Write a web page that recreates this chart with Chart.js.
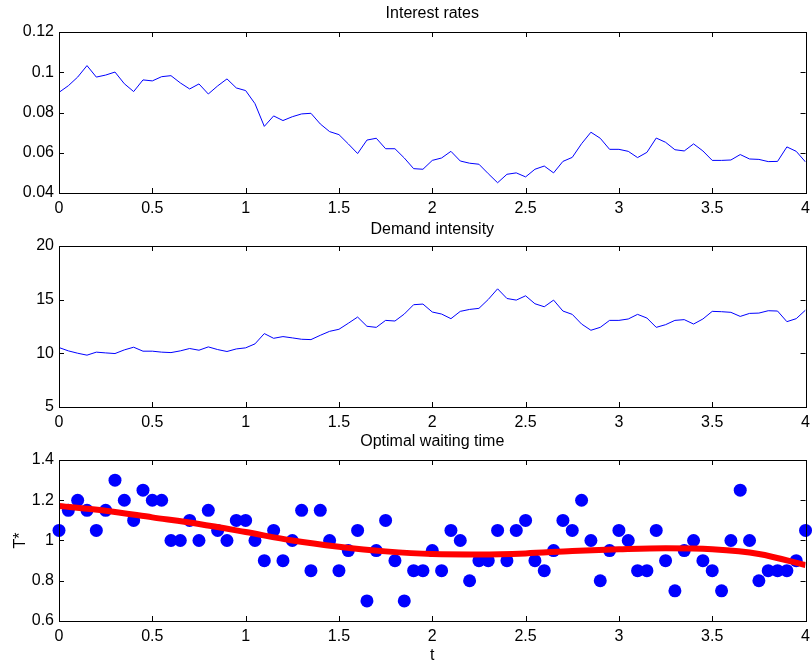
<!DOCTYPE html>
<html>
<head>
<meta charset="utf-8">
<script src="https://cdn.jsdelivr.net/npm/chart.js@4/dist/chart.umd.min.js"></script>
<style>
  html, body { margin: 0; padding: 0; background: #fff; }
  #wrap { position: relative; width: 812px; height: 665px; overflow: hidden; }
  #wrap canvas { position: absolute; left: 0; }
</style>
</head>
<body>
<div id="wrap">
  <canvas id="ratesChart" width="816" height="222" style="top:0px"></canvas>
  <canvas id="demandChart" width="816" height="220" style="top:215px"></canvas>
  <canvas id="waitChart" width="816" height="240" style="top:425px"></canvas>
</div>
<script>
// sample times, step 0.05
var t = [
  0, 0.05, 0.1, 0.15, 0.2, 0.25, 0.3, 0.35, 0.4, 0.45,
  0.5, 0.55, 0.6, 0.65, 0.7, 0.75, 0.8, 0.85, 0.9, 0.95,
  1, 1.05, 1.1, 1.15, 1.2, 1.25, 1.3, 1.35, 1.4, 1.45,
  1.5, 1.55, 1.6, 1.65, 1.7, 1.75, 1.8, 1.85, 1.9, 1.95,
  2, 2.05, 2.1, 2.15, 2.2, 2.25, 2.3, 2.35, 2.4, 2.45,
  2.5, 2.55, 2.6, 2.65, 2.7, 2.75, 2.8, 2.85, 2.9, 2.95,
  3, 3.05, 3.1, 3.15, 3.2, 3.25, 3.3, 3.35, 3.4, 3.45,
  3.5, 3.55, 3.6, 3.65, 3.7, 3.75, 3.8, 3.85, 3.9, 3.95,
  4
];

var rates = [
  0.0900, 0.0933, 0.0976, 0.1033, 0.0976, 0.0986, 0.1001, 0.0943, 0.0904, 0.0962,
  0.0957, 0.0978, 0.0983, 0.0947, 0.0917, 0.0942, 0.0892, 0.0932, 0.0967, 0.0922,
  0.0909, 0.0844, 0.0731, 0.0783, 0.0760, 0.0779, 0.0793, 0.0796, 0.0743, 0.0705,
  0.0690, 0.0644, 0.0596, 0.0663, 0.0672, 0.0620, 0.0620, 0.0574, 0.0521, 0.0518,
  0.0562, 0.0574, 0.0607, 0.0559, 0.0548, 0.0543, 0.0496, 0.0451, 0.0493, 0.0500,
  0.0480, 0.0518, 0.0534, 0.0500, 0.0557, 0.0577, 0.0645, 0.0702, 0.0672, 0.0617,
  0.0617, 0.0607, 0.0576, 0.0602, 0.0673, 0.0652, 0.0615, 0.0609, 0.0644, 0.0609,
  0.0562, 0.0562, 0.0564, 0.0591, 0.0569, 0.0567, 0.0556, 0.0557, 0.0629, 0.0607,
  0.0554
];

var demand = [
  10.54, 10.23, 10.01, 9.83, 10.11, 10.04, 9.98, 10.32, 10.57, 10.20,
  10.20, 10.11, 10.07, 10.23, 10.45, 10.29, 10.60, 10.35, 10.17, 10.41,
  10.51, 10.88, 11.84, 11.40, 11.56, 11.44, 11.31, 11.28, 11.68, 12.05,
  12.24, 12.80, 13.38, 12.52, 12.42, 13.07, 13.01, 13.66, 14.53, 14.59,
  13.85, 13.66, 13.23, 13.91, 14.09, 14.19, 15.02, 16.01, 15.11, 14.96,
  15.36, 14.62, 14.34, 14.96, 13.94, 13.63, 12.73, 12.15, 12.42, 13.07,
  13.07, 13.20, 13.63, 13.29, 12.42, 12.67, 13.07, 13.14, 12.73, 13.20,
  13.91, 13.88, 13.82, 13.44, 13.72, 13.75, 13.97, 13.94, 12.95, 13.23,
  14.03
];

var waiting = [
  1.05, 1.15, 1.2, 1.15, 1.05, 1.15, 1.3, 1.2, 1.1, 1.25,
  1.2, 1.2, 1.0, 1.0, 1.1, 1.0, 1.15, 1.05, 1.0, 1.1,
  1.1, 1.0, 0.9, 1.05, 0.9, 1.0, 1.15, 0.85, 1.15, 1.0,
  0.85, 0.95, 1.05, 0.7, 0.95, 1.1, 0.9, 0.7, 0.85, 0.85,
  0.95, 0.85, 1.05, 1.0, 0.8, 0.9, 0.9, 1.05, 0.9, 1.05,
  1.1, 0.9, 0.85, 0.95, 1.1, 1.05, 1.2, 1.0, 0.8, 0.95,
  1.05, 1.0, 0.85, 0.85, 1.05, 0.9, 0.75, 0.95, 1.0, 0.9,
  0.85, 0.75, 1.0, 1.25, 1.0, 0.8, 0.85, 0.85, 0.85, 0.9,
  1.05
];

// smoothed fit of the waiting times
var fitT = [0, 0.25, 0.5, 0.75, 1, 1.25, 1.5, 1.75, 2, 2.25, 2.5, 2.75, 3, 3.25, 3.5, 3.75, 4];
var fitWaiting = [1.171, 1.148, 1.115, 1.082, 1.042, 1.0, 0.969, 0.946, 0.933, 0.931, 0.936, 0.948, 0.956, 0.961, 0.956, 0.933, 0.878];

var xTicksStep = 0.5;

Chart.defaults.font.family = "'Liberation Sans', Arial, Helvetica, sans-serif";
Chart.defaults.font.size = 16;
Chart.defaults.color = '#000';

function pairs(xs, ys) {
  return xs.map(function(x, i) { return {x: x, y: ys[i]}; });
}

function fmt(v) {
  return String(+Number(v).toFixed(4));
}

// closed box with short inward ticks on all four sides
var boxTicks = {
  id: 'boxTicks',
  afterDatasetsDraw: function(chart) {
    var ctx = chart.ctx, a = chart.chartArea, sx = chart.scales.x, sy = chart.scales.y;
    var len = 5;
    ctx.save();
    ctx.strokeStyle = '#000';
    ctx.lineWidth = 1;
    ctx.beginPath();
    sx.ticks.forEach(function(tk) {
      var px = Math.round(sx.getPixelForValue(tk.value)) + 0.5;
      ctx.moveTo(px, a.bottom); ctx.lineTo(px, a.bottom - len);
      ctx.moveTo(px, a.top); ctx.lineTo(px, a.top + len);
    });
    sy.ticks.forEach(function(tk) {
      var py = Math.round(sy.getPixelForValue(tk.value)) + 0.5;
      ctx.moveTo(a.left, py); ctx.lineTo(a.left + len, py);
      ctx.moveTo(a.right, py); ctx.lineTo(a.right - len, py);
    });
    ctx.stroke();
    ctx.strokeRect(Math.round(a.left) + 0.5, Math.round(a.top) + 0.5,
      Math.round(a.right - a.left), Math.round(a.bottom - a.top));
    ctx.restore();
  }
};

function buildOptions(o) {
  return {
    responsive: false,
    animation: false,
    devicePixelRatio: 1,
    layout: {padding: {left: 0, right: 0, top: 0, bottom: o.bottomPad || 0}},
    plugins: {
      legend: {display: false},
      tooltip: {enabled: false},
      title: {
        display: true,
        fullSize: false,   // centre over the plot box
        text: o.title,
        color: '#000',
        font: {size: 16, weight: 'normal'},
        padding: o.titlePad
      }
    },
    scales: {
      x: {
        type: 'linear',
        min: 0, max: 4,
        grid: {display: false, drawTicks: false},
        border: {display: false},
        ticks: {stepSize: xTicksStep, padding: 6, color: '#000', callback: fmt, maxRotation: 0, autoSkip: false},
        title: o.xTitle ? {display: true, text: o.xTitle, color: '#000', padding: {top: 0, bottom: 0}} : {display: false},
        afterFit: function(s) { s.height = o.xHeight; }
      },
      y: {
        type: 'linear',
        min: o.yMin, max: o.yMax,
        grid: {display: false, drawTicks: false},
        border: {display: false},
        ticks: {stepSize: o.yStep, padding: 5, color: '#000', callback: fmt, autoSkip: false},
        title: o.yTitle ? {display: true, text: o.yTitle, color: '#000', padding: {top: 11.4, bottom: 0}} : {display: false},
        afterFit: function(s) { s.width = 59; }
      }
    }
  };
}

new Chart(document.getElementById('ratesChart'), {
  type: 'line',
  data: {
    datasets: [{
      data: pairs(t, rates),
      borderColor: '#0000ff',
      borderWidth: 1,
      pointRadius: 0,
      tension: 0,
      fill: false
    }]
  },
  options: buildOptions({
    title: 'Interest rates', titlePad: {top: 4.4, bottom: 8.4},
    xHeight: 25, bottomPad: 4, yMin: 0.04, yMax: 0.12, yStep: 0.02
  }),
  plugins: [boxTicks]
});

new Chart(document.getElementById('demandChart'), {
  type: 'line',
  data: {
    datasets: [{
      data: pairs(t, demand),
      borderColor: '#0000ff',
      borderWidth: 1,
      pointRadius: 0,
      tension: 0,
      fill: false
    }]
  },
  options: buildOptions({
    title: 'Demand intensity', titlePad: {top: 5.4, bottom: 6.4},
    xHeight: 28, yMin: 5, yMax: 20, yStep: 5
  }),
  plugins: [boxTicks]
});

new Chart(document.getElementById('waitChart'), {
  type: 'line',
  data: {
    datasets: [{
      // fitted curve, drawn over the dots
      data: pairs(fitT, fitWaiting),
      borderColor: '#ff0000',
      borderWidth: 6,
      pointRadius: 0,
      cubicInterpolationMode: 'monotone',
      fill: false
    }, {
      data: pairs(t, waiting),
      showLine: false,
      pointRadius: 6.5,
      pointBorderWidth: 0,
      pointBackgroundColor: '#0000ff',
      pointBorderColor: '#0000ff',
      clip: false
    }]
  },
  options: buildOptions({
    title: 'Optimal waiting time', titlePad: {top: 7.4, bottom: 8.4},
    xHeight: 44, yMin: 0.6, yMax: 1.4, yStep: 0.2,
    xTitle: 't', yTitle: 'T*'
  }),
  plugins: [boxTicks]
});
</script>
</body>
</html>
